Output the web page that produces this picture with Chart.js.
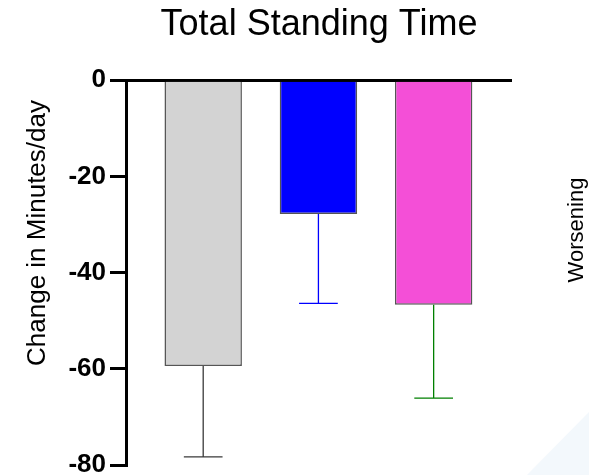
<!DOCTYPE html>
<html>
<head>
<meta charset="utf-8">
<script src="https://cdn.jsdelivr.net/npm/chart.js@4.4.0/dist/chart.umd.min.js"></script>
<style>
  html, body { margin: 0; padding: 0; background: #fff; }
</style>
</head>
<body>
<canvas id="standChart" width="589" height="475"></canvas>
<script>
// Values
const groups = ["Group 1", "Group 2", "Group 3"];
const meanChange = [-59.4, -27.8, -46.7];
const errorSize = [18.9, 18.6, 19.4];
const yTicks = [0, -20, -40, -60, -80];
const barColors = ["#D3D3D3", "#0000FF", "#F44FD7"];
const errorColors = ["#3a3a3a", "#0000FF", "#008000"];

const FONT = "'Liberation Sans', Arial, sans-serif";

// white page + the faint blue corner
const decor = {
  id: "decor",
  beforeDraw(chart) {
    const c = chart.ctx, w = chart.width, h = chart.height;
    c.save();
    c.fillStyle = "#fff";
    c.fillRect(0, 0, w, h);
    c.fillStyle = "#F3F8FC";
    c.beginPath();
    c.moveTo(w - 62, h);
    c.lineTo(w, h - 63);
    c.lineTo(w, h);
    c.closePath();
    c.fill();
    c.restore();
  }
};

// one-sided (downward) error bars
const errorBars = {
  id: "errorBars",
  afterDatasetsDraw(chart) {
    const c = chart.ctx;
    const xs = chart.scales.x, ys = chart.scales.y;
    const meta = chart.getDatasetMeta(0);
    c.save();
    c.lineWidth = 1.3;
    meta.data.forEach((bar, i) => {
      const x = xs.getPixelForValue(i + 1);
      const y0 = ys.getPixelForValue(meanChange[i]);
      const y1 = ys.getPixelForValue(meanChange[i] - errorSize[i]);
      const half = bar.width / 4;
      c.strokeStyle = errorColors[i];
      c.beginPath();
      c.moveTo(x, y0);
      c.lineTo(x, y1);
      c.moveTo(x - half, y1);
      c.lineTo(x + half, y1);
      c.stroke();
    });
    c.restore();
  }
};

// rotated side texts
const sideText = {
  id: "sideText",
  afterDraw(chart) {
    const c = chart.ctx;
    c.save();
    c.fillStyle = "#000";
    c.textAlign = "center";
    c.textBaseline = "middle";
    c.translate(38, 233);
    c.rotate(-Math.PI / 2);
    c.font = "26px " + FONT;
    c.fillText("Change in Minutes/day", 0, 0);
    c.restore();

    c.save();
    c.fillStyle = "#000";
    c.textAlign = "center";
    c.textBaseline = "middle";
    c.translate(577, 230);
    c.rotate(-Math.PI / 2);
    c.font = "22px " + FONT;
    c.fillText("Worsening", 0, 0);
    c.restore();
  }
};

const ctx = document.getElementById("standChart").getContext("2d");
new Chart(ctx, {
  type: "bar",
  data: {
    labels: groups,
    datasets: [{
      data: meanChange.map((v, i) => ({ x: i + 1, y: v })),
      backgroundColor: barColors,
      borderColor: "#555",
      borderWidth: 1.5,
      barPercentage: 0.672,
      categoryPercentage: 1
    }]
  },
  options: {
    responsive: false,
    animation: false,
    layout: { padding: { left: 0, right: 77, top: 0, bottom: 10 } },
    plugins: {
      legend: { display: false },
      tooltip: { enabled: false },
      title: {
        display: true,
        text: "Total Standing Time",
        color: "#000",
        fullSize: false,
        font: { family: FONT, size: 36, weight: "normal" },
        padding: { top: 3, bottom: 34 }
      }
    },
    scales: {
      x: {
        type: "linear",
        min: 0.33,
        max: 3.68,
        offset: false,
        display: false,
        afterBuildTicks(scale) {
          scale.ticks = groups.map((g, i) => ({ value: i + 1 }));
        }
      },
      y: {
        min: Math.min(...yTicks),
        max: Math.max(...yTicks),
        z: 1,
        afterBuildTicks(scale) {
          scale.ticks = yTicks.map(v => ({ value: v }));
        },
        ticks: {
          color: "#000",
          padding: 4,
          font: { family: FONT, size: 26, weight: "bold" }
        },
        grid: {
          drawOnChartArea: true,
          color: c => (c.tick && c.tick.value === 0 ? "#000" : "rgba(0,0,0,0)"),
          lineWidth: 3,
          tickLength: 16,
          tickColor: "#000",
          tickWidth: 3
        },
        border: { color: "#000", width: 3 },
        afterFit(scale) {
          scale.width = 126;
          scale.paddingTop = 0;
          scale.paddingBottom = 0;
        }
      }
    }
  },
  plugins: [decor, errorBars, sideText]
});
</script>
</body>
</html>
